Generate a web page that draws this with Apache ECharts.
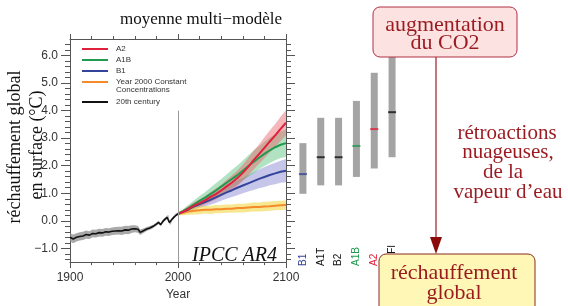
<!DOCTYPE html>
<html>
<head>
<meta charset="utf-8" />
<script src="https://cdn.jsdelivr.net/npm/echarts@6.0.0/dist/echarts.min.js"></script>
<style>
  html, body { margin: 0; padding: 0; background: #fff; }
  #chart { width: 568px; height: 306px; }
</style>
</head>
<body>
<div id="chart"></div>
<script>
// 20th century multi-model mean and spread
const histYears = [1900, 1903, 1906, 1909, 1912, 1915, 1918, 1921, 1924, 1927,
  1930, 1933, 1936, 1939, 1942, 1945, 1948, 1951, 1954, 1957,
  1960, 1963, 1965, 1968, 1971, 1974, 1977, 1980, 1982, 1984,
  1986, 1988, 1990, 1991, 1992, 1993, 1995, 1997, 1998, 2000];
const histMean = [-0.60, -0.66, -0.60, -0.57, -0.55, -0.50, -0.52, -0.46, -0.47, -0.43,
  -0.44, -0.40, -0.41, -0.38, -0.37, -0.36, -0.37, -0.33, -0.34, -0.30,
  -0.29, -0.31, -0.42, -0.36, -0.30, -0.26, -0.20, -0.12, -0.06, -0.14,
  -0.02, 0.06, 0.12, 0.16, -0.06, -0.08, 0.08, 0.16, 0.22, 0.25];
const histSpread = [0.15, 0.16, 0.15, 0.15, 0.15, 0.15, 0.14, 0.14, 0.14, 0.14,
  0.14, 0.14, 0.14, 0.14, 0.14, 0.14, 0.15, 0.15, 0.15, 0.14,
  0.13, 0.12, 0.10, 0.08, 0.07, 0.07, 0.06, 0.06, 0.06, 0.06,
  0.06, 0.06, 0.06, 0.06, 0.06, 0.06, 0.05, 0.05, 0.05, 0.05];

// scenarios
const scenYears = [2000, 2005, 2010, 2015, 2020, 2025, 2030, 2035, 2040, 2045, 2050,
  2055, 2060, 2065, 2070, 2075, 2080, 2085, 2090, 2095, 2100];
const a2Mean = [0.25, 0.33, 0.44, 0.55, 0.64, 0.74, 0.86, 0.97, 1.10, 1.25, 1.39,
  1.55, 1.74, 1.96, 2.20, 2.42, 2.65, 2.88, 3.10, 3.34, 3.56];
const a2Spread = [0.05, 0.08, 0.10, 0.12, 0.14, 0.15, 0.18, 0.20, 0.21, 0.24, 0.26,
  0.28, 0.29, 0.32, 0.34, 0.35, 0.38, 0.40, 0.41, 0.44, 0.46];
const a1bMean = [0.25, 0.35, 0.47, 0.60, 0.72, 0.84, 0.97, 1.10, 1.24, 1.38, 1.52,
  1.66, 1.82, 1.98, 2.14, 2.29, 2.43, 2.56, 2.67, 2.76, 2.82];
const a1bSpread = [0.05, 0.09, 0.12, 0.15, 0.18, 0.20, 0.23, 0.26, 0.28, 0.30, 0.33,
  0.35, 0.37, 0.39, 0.41, 0.42, 0.44, 0.46, 0.47, 0.48, 0.50];
const b1Mean = [0.25, 0.33, 0.42, 0.52, 0.61, 0.68, 0.76, 0.85, 0.94, 1.03, 1.11,
  1.20, 1.28, 1.36, 1.44, 1.52, 1.59, 1.66, 1.72, 1.78, 1.82];
const b1Spread = [0.05, 0.08, 0.10, 0.12, 0.14, 0.16, 0.18, 0.20, 0.21, 0.23, 0.25,
  0.27, 0.28, 0.30, 0.32, 0.34, 0.36, 0.37, 0.39, 0.40, 0.42];
const constMean = [0.25, 0.30, 0.34, 0.36, 0.38, 0.40, 0.40, 0.42, 0.42, 0.44, 0.44,
  0.46, 0.46, 0.48, 0.50, 0.50, 0.52, 0.53, 0.55, 0.56, 0.57];
const constSpread = [0.05, 0.10, 0.12, 0.13, 0.14, 0.14, 0.15, 0.15, 0.15, 0.15, 0.15,
  0.16, 0.16, 0.16, 0.16, 0.16, 0.17, 0.17, 0.17, 0.17, 0.17];

// likely ranges at 2090-2099
const barCats = ['B1', 'A1T', 'B2', 'A1B', 'A2', 'A1FI'];
const barLow = [1.1, 1.4, 1.4, 1.7, 2.0, 2.4];
const barHigh = [2.9, 3.8, 3.8, 4.4, 5.4, 6.4];
const barBest = [1.8, 2.4, 2.4, 2.8, 3.4, 4.0];
const barColors = ['#34449a', '#111', '#111', '#1f9a4e', '#e0203a', '#111'];

// ticks
const yMajorTicks = [-1, 0, 1, 2, 3, 4, 5, 6];
const yMinorTicks = [-1.4, -1.2, -0.8, -0.6, -0.4, -0.2, 0.2, 0.4, 0.6, 0.8,
  1.2, 1.4, 1.6, 1.8, 2.2, 2.4, 2.6, 2.8, 3.2, 3.4, 3.6, 3.8,
  4.2, 4.4, 4.6, 4.8, 5.2, 5.4, 5.6, 5.8, 6.2, 6.4];

const serif = '"Liberation Serif", "DejaVu Serif", serif';
const sans = '"Liberation Sans", Arial, sans-serif';
const darkRed = '#9a1a1f';

// uncertainty band drawn as one polygon through the axis scales
function band(years, mean, spread, color) {
  const rows = years.map((y, i) => [y, +(mean[i] - spread[i]).toFixed(3), +(mean[i] + spread[i]).toFixed(3)]);
  return {
    type: 'custom', xAxisIndex: 0, yAxisIndex: 0, silent: true, z: 1,
    data: rows,
    encode: { x: 0, y: [1, 2] },
    renderItem: (params, api) => {
      if (params.dataIndex !== 0) return null;
      const upper = rows.map((r) => api.coord([r[0], r[2]]));
      const lower = rows.map((r) => api.coord([r[0], r[1]])).reverse();
      return { type: 'polygon', shape: { points: upper.concat(lower) }, style: { fill: color } };
    }
  };
}

function line(name, years, values, color, width) {
  return {
    name, type: 'line', xAxisIndex: 0, yAxisIndex: 0, symbol: 'none', z: 3,
    data: years.map((y, i) => [y, values[i]]),
    lineStyle: { color, width }, itemStyle: { color }
  };
}

const yLabelFmt = (v) => (v < 0 ? '\u2212' : '') + Math.abs(v).toFixed(1);
const axisColor = '#555';

const myChart = echarts.init(document.getElementById('chart'));

const series = [
  band(scenYears, b1Mean, b1Spread, 'rgba(120,120,205,0.42)'),
  band(scenYears, a1bMean, a1bSpread, 'rgba(70,185,110,0.42)'),
  band(scenYears, a2Mean, a2Spread, 'rgba(235,95,105,0.45)'),
  band(scenYears, constMean, constSpread, 'rgba(240,215,70,0.6)'),
  band(histYears, histMean, histSpread, 'rgba(140,140,140,0.75)'),
  line('Year 2000 Constant Concentrations', scenYears, constMean, '#f58a2a', 2),
  line('B1', scenYears, b1Mean, '#34449a', 2),
  line('A1B', scenYears, a1bMean, '#1f9a4e', 2),
  line('A2', scenYears, a2Mean, '#e0203a', 2),
  {
    ...line('20th century', histYears, histMean, '#111', 1.6),
    markLine: {
      silent: true, symbol: 'none', label: { show: false },
      lineStyle: { color: '#999', width: 1, type: 'solid' },
      data: [[{ coord: [2000, -1.5] }, { coord: [2000, 4.0] }]]
    }
  },
  {
    type: 'bar', xAxisIndex: 2, yAxisIndex: 4, stack: 'rng', barWidth: 7, silent: true,
    data: barLow, itemStyle: { color: 'rgba(0,0,0,0)' }
  },
  {
    type: 'bar', xAxisIndex: 2, yAxisIndex: 4, stack: 'rng', barWidth: 7, silent: true,
    data: barHigh.map((h, i) => +(h - barLow[i]).toFixed(2)), itemStyle: { color: '#a4a4a4' }
  },
  {
    type: 'scatter', xAxisIndex: 2, yAxisIndex: 4, symbol: 'rect', symbolSize: [8, 2], z: 5, silent: true,
    data: barBest.map((v, i) => ({ value: v, itemStyle: { color: barColors[i] } }))
  }
];

const rich = {};
barColors.forEach((c, i) => { rich['c' + i] = { color: c, fontSize: 10, fontFamily: sans }; });

const legendBase = {
  orient: 'vertical', itemWidth: 26, itemHeight: 2, itemGap: 1, icon: 'rect',
  selectedMode: false, padding: 0,
  textStyle: { fontSize: 8, color: '#333', fontFamily: sans, lineHeight: 10, padding: [0, 0, 0, 3] }
};

const option = {
  animation: false,
  grid: [
    { left: 70, right: 282, top: 39, bottom: 39 },
    { left: 294, width: 107, top: 39, bottom: 39 }
  ],
  legend: [
    {
      ...legendBase, left: 82, top: 44,
      data: ['A2', 'A1B', 'B1', 'Year 2000 Constant Concentrations'],
      formatter: (n) => n === 'Year 2000 Constant Concentrations' ? 'Year 2000 Constant' : n
    },
    { ...legendBase, left: 82, top: 97, data: ['20th century'] }
  ],
  xAxis: [
    {
      gridIndex: 0, type: 'value', min: 1900, max: 2100, interval: 100, position: 'bottom',
      axisLine: { show: true, onZero: false, lineStyle: { color: axisColor } },
      axisTick: { show: true, length: 6, lineStyle: { color: axisColor } },
      minorTick: { show: true, splitNumber: 5, length: 3, lineStyle: { color: axisColor } },
      splitLine: { show: false },
      axisLabel: { fontSize: 12, color: '#333', margin: 10, fontFamily: sans, formatter: (v) => String(v) },
      name: 'Year', nameLocation: 'middle', nameGap: 26,
      nameTextStyle: { fontSize: 12, color: '#333', fontFamily: sans }
    },
    {
      gridIndex: 0, type: 'value', min: 1900, max: 2100, interval: 100, position: 'top',
      axisLine: { show: true, onZero: false, lineStyle: { color: axisColor } },
      axisTick: { show: true, length: 5, lineStyle: { color: axisColor } },
      minorTick: { show: true, splitNumber: 5, length: 3, lineStyle: { color: axisColor } },
      splitLine: { show: false }, axisLabel: { show: false }
    },
    {
      gridIndex: 1, type: 'category', data: barCats,
      axisLine: { show: false }, axisTick: { show: false }, splitLine: { show: false },
      axisLabel: {
        inside: true, rotate: 90, margin: 1, interval: 0,
        formatter: (v, i) => '{c' + i + '|' + v + '}', rich
      }
    }
  ],
  yAxis: [
    {
      gridIndex: 0, type: 'value', min: -1.5, max: 6.6, position: 'left',
      axisLine: { show: true, onZero: false, lineStyle: { color: axisColor } },
      axisTick: { show: true, length: 9, customValues: yMajorTicks, lineStyle: { color: axisColor } },
      axisLabel: { customValues: yMajorTicks, formatter: yLabelFmt, fontSize: 12, color: '#333', margin: 12, fontFamily: sans },
      splitLine: { show: false }
    },
    {
      gridIndex: 0, type: 'value', min: -1.5, max: 6.6, position: 'left',
      axisLine: { show: false },
      axisTick: { show: true, length: 5, customValues: yMinorTicks, lineStyle: { color: axisColor } },
      axisLabel: { show: false }, splitLine: { show: false }
    },
    {
      gridIndex: 0, type: 'value', min: -1.5, max: 6.6, position: 'right',
      axisLine: { show: true, onZero: false, lineStyle: { color: axisColor } },
      axisTick: { show: true, length: 9, customValues: yMajorTicks, lineStyle: { color: axisColor } },
      axisLabel: { show: false }, splitLine: { show: false }
    },
    {
      gridIndex: 0, type: 'value', min: -1.5, max: 6.6, position: 'right',
      axisLine: { show: false },
      axisTick: { show: true, length: 5, customValues: yMinorTicks, lineStyle: { color: axisColor } },
      axisLabel: { show: false }, splitLine: { show: false }
    },
    { gridIndex: 1, type: 'value', min: -1.5, max: 6.6, show: false }
  ],
  series,
  graphic: [
    { type: 'text', x: 201, y: 20, style: { text: 'moyenne multi\u2212modèle', font: '17px ' + serif, fill: '#111', textAlign: 'center', textVerticalAlign: 'middle' } },
    { type: 'text', x: 15, y: 147, rotation: Math.PI / 2, style: { text: 'réchauffement global', font: '18px ' + serif, fill: '#111', textAlign: 'center', textVerticalAlign: 'middle' } },
    { type: 'text', x: 37, y: 145, rotation: Math.PI / 2, style: { text: 'en surface (°C)', font: '18px ' + serif, fill: '#111', textAlign: 'center', textVerticalAlign: 'middle' } },
    { type: 'text', x: 277, y: 256, style: { text: 'IPCC AR4', font: 'italic 20px ' + serif, fill: '#111', textAlign: 'right', textVerticalAlign: 'middle' } },
    { type: 'text', x: 116, y: 90, style: { text: 'Concentrations', font: '8px ' + sans, fill: '#333', textAlign: 'left', textVerticalAlign: 'middle' } },
    // feedback arrow
    { type: 'line', z: 90, shape: { x1: 436, y1: 57, x2: 436, y2: 240 }, style: { stroke: '#b04a55', lineWidth: 1.5 } },
    { type: 'polygon', z: 90, shape: { points: [[430, 237], [442, 237], [436, 254]] }, style: { fill: '#8b0a0a' } },
    { type: 'text', z: 90, x: 507, y: 133, style: { text: 'rétroactions', font: '21px ' + serif, fill: darkRed, textAlign: 'center', textVerticalAlign: 'middle' } },
    { type: 'text', z: 90, x: 508, y: 152, style: { text: 'nuageuses,', font: '21px ' + serif, fill: darkRed, textAlign: 'center', textVerticalAlign: 'middle' } },
    { type: 'text', z: 90, x: 503, y: 172, style: { text: 'de la', font: '21px ' + serif, fill: darkRed, textAlign: 'center', textVerticalAlign: 'middle' } },
    { type: 'text', z: 90, x: 508, y: 192, style: { text: 'vapeur d\u2019eau', font: '21px ' + serif, fill: darkRed, textAlign: 'center', textVerticalAlign: 'middle' } },
    // boxes
    { type: 'rect', z: 100, shape: { x: 373, y: 7, width: 144, height: 50, r: 7 }, style: { fill: '#fde2e2', stroke: '#b03040', lineWidth: 1 } },
    { type: 'text', z: 101, x: 445, y: 25, style: { text: 'augmentation', font: '22px ' + serif, fill: darkRed, textAlign: 'center', textVerticalAlign: 'middle' } },
    { type: 'text', z: 101, x: 445, y: 43, style: { text: 'du CO2', font: '22px ' + serif, fill: darkRed, textAlign: 'center', textVerticalAlign: 'middle' } },
    { type: 'rect', z: 100, shape: { x: 379, y: 254, width: 156, height: 70, r: 7 }, style: { fill: '#fff7b5', stroke: '#8a2a20', lineWidth: 1 } },
    { type: 'text', z: 101, x: 454, y: 273, style: { text: 'réchauffement', font: '22px ' + serif, fill: darkRed, textAlign: 'center', textVerticalAlign: 'middle' } },
    { type: 'text', z: 101, x: 454, y: 293, style: { text: 'global', font: '22px ' + serif, fill: darkRed, textAlign: 'center', textVerticalAlign: 'middle' } }
  ]
};

myChart.setOption(option);
</script>
</body>
</html>
